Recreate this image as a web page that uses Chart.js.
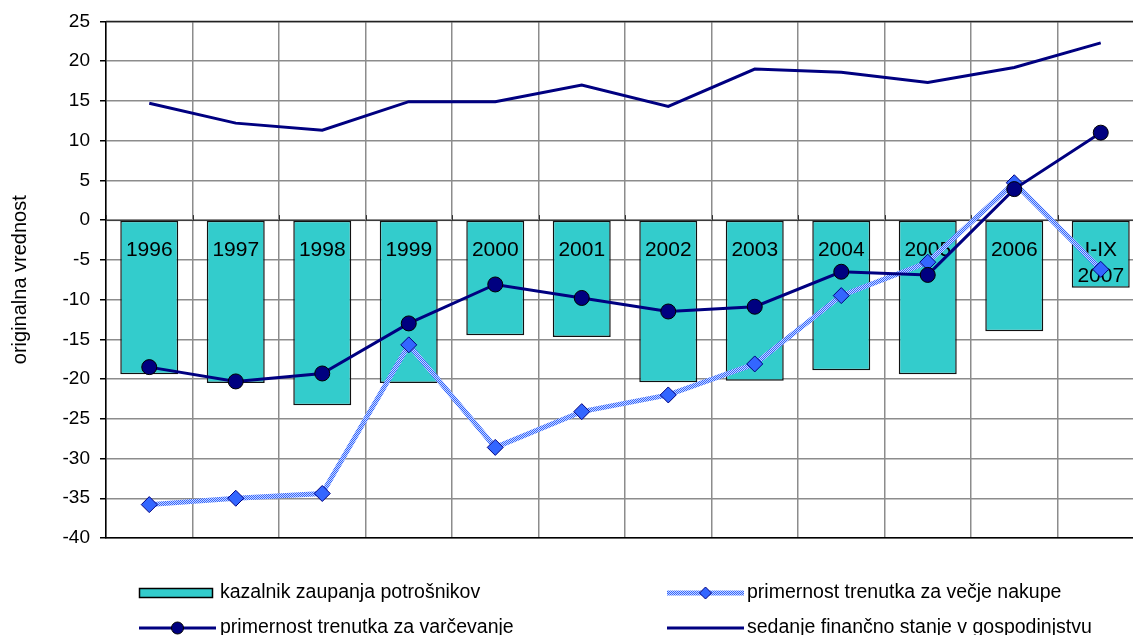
<!DOCTYPE html>
<html>
<head>
<meta charset="utf-8">
<script src="https://cdn.jsdelivr.net/npm/chart.js@4/dist/chart.umd.min.js"></script>
<style>
  html, body { margin: 0; padding: 0; background: #fff; overflow: hidden; }
  canvas { display: block; }
</style>
</head>
<body>
<canvas id="chart" width="1153" height="635"></canvas>
<script>
// categories (last one is two lines inside the bar)
const years = ['1996', '1997', '1998', '1999', '2000', '2001', '2002', '2003', '2004', '2005', '2006', ['I-IX', '2007']];

// series
const zaupanje = [-19.4, -20.5, -23.3, -20.5, -14.5, -14.7, -20.4, -20.2, -18.9, -19.4, -14.0, -8.5];
const varcevanje = [-18.5, -20.3, -19.3, -13.0, -8.1, -9.8, -11.5, -10.9, -6.5, -6.9, 3.9, 11.0];
const nakupi = [-35.8, -35.0, -34.4, -15.7, -28.6, -24.1, -22.0, -18.1, -9.5, -5.3, 4.7, -6.2];
const stanje = [14.7, 12.2, 11.3, 14.9, 14.9, 17.0, 14.3, 19.0, 18.6, 17.3, 19.2, 22.3];

const seriesNames = [
  'kazalnik zaupanja potrošnikov',
  'primernost trenutka za varčevanje',
  'primernost trenutka za večje nakupe',
  'sedanje finančno stanje v gospodinjstvu'
];

const yMin = -40, yMax = 25, yStep = 5;
const FONT = '"Liberation Sans", Arial, sans-serif';

// hatched light blue stroke for the purchases line
function hatch() {
  const c = document.createElement('canvas');
  c.width = 2; c.height = 2;
  const g = c.getContext('2d');
  g.fillStyle = '#c8d6ff'; g.fillRect(0, 0, 2, 2);
  g.fillStyle = '#3366ff'; g.fillRect(0, 0, 1, 1); g.fillRect(1, 1, 1, 1);
  return g.createPattern(c, 'repeat');
}
const hatchPattern = hatch();

// year labels inside the bars, drawn right after the bars so the lines cover them
const barLabels = {
  id: 'barLabels',
  afterDatasetDraw(chart, args) {
    if (args.index !== 0) return;
    const ctx = chart.ctx, x = chart.scales.x, y = chart.scales.y;
    const y0 = y.getPixelForValue(0);
    ctx.save();
    ctx.font = '21px ' + FONT;
    ctx.fillStyle = '#000';
    ctx.textAlign = 'center';
    ctx.textBaseline = 'middle';
    years.forEach((lab, i) => {
      const cx = x.getPixelForValue(i);
      const lines = Array.isArray(lab) ? lab : [lab];
      lines.forEach((t, j) => ctx.fillText(t, cx, y0 + 30 + j * 26));
    });
    ctx.restore();
  }
};

// plot frame, zero line ticks and the legend below
const frameAndLegend = {
  id: 'frameAndLegend',
  beforeDatasetsDraw(chart) {
    const ctx = chart.ctx, a = chart.chartArea, x = chart.scales.x, y = chart.scales.y;
    const y0 = y.getPixelForValue(0);
    ctx.save();
    ctx.strokeStyle = '#222';
    ctx.lineWidth = 1.5;
    ctx.beginPath();
    ctx.moveTo(a.left, a.top); ctx.lineTo(a.right, a.top);
    ctx.stroke();
    ctx.lineWidth = 1;
    ctx.strokeStyle = '#333';
    ctx.beginPath();
    ctx.moveTo(a.left, y0 + 0.5); ctx.lineTo(a.right, y0 + 0.5);
    for (let i = 0; i <= years.length; i++) {
      const px = Math.round(x.getPixelForValue(i - 0.5)) + 0.5;
      ctx.moveTo(px, y0); ctx.lineTo(px, y0 - 5);
    }
    ctx.stroke();
    ctx.restore();
  },
  afterDraw(chart) {
    const ctx = chart.ctx;
    const ds = chart.data.datasets;
    const slots = [
      { x: 139, y: 593 }, { x: 139, y: 628 },
      { x: 667, y: 593 }, { x: 667, y: 628 }
    ];
    ctx.save();
    ctx.font = '19.5px ' + FONT;
    ctx.textBaseline = 'middle';
    ds.forEach((d, i) => {
      const s = slots[i];
      const w = 77, mid = s.x + w / 2;
      if (d.type === 'bar') {
        ctx.fillStyle = d.backgroundColor;
        ctx.fillRect(s.x, s.y - 5, 74, 10);
        ctx.strokeStyle = '#000'; ctx.lineWidth = 1.5;
        ctx.strokeRect(s.x + 0.5, s.y - 4.5, 73, 9);
      } else {
        ctx.strokeStyle = d.borderColor;
        ctx.lineWidth = d.borderWidth;
        ctx.beginPath(); ctx.moveTo(s.x, s.y); ctx.lineTo(s.x + w, s.y); ctx.stroke();
        if (d.pointRadius > 0) {
          ctx.fillStyle = d.pointBackgroundColor;
          ctx.strokeStyle = d.pointBorderColor;
          ctx.lineWidth = d.pointBorderWidth;
          ctx.beginPath();
          if (d.pointStyle === 'rectRot') {
            const r = 6;
            ctx.moveTo(mid, s.y - r); ctx.lineTo(mid + r, s.y); ctx.lineTo(mid, s.y + r); ctx.lineTo(mid - r, s.y);
            ctx.closePath();
          } else {
            ctx.arc(mid, s.y, 6, 0, Math.PI * 2);
          }
          ctx.fill(); ctx.stroke();
        }
      }
      ctx.fillStyle = '#000';
      ctx.fillText(seriesNames[i], s.x + (i < 2 ? 81 : 80), s.y);
    });
    ctx.restore();
  }
};

new Chart(document.getElementById('chart'), {
  data: {
    labels: years,
    datasets: [
      {
        type: 'bar', label: seriesNames[0], data: zaupanje, order: 4,
        backgroundColor: '#33cccc', borderColor: '#111', borderWidth: 1.5, borderSkipped: false,
        barPercentage: 0.67, categoryPercentage: 1
      },
      {
        type: 'line', label: seriesNames[1], data: varcevanje, order: 1,
        borderColor: '#000080', borderWidth: 3, tension: 0,
        pointStyle: 'circle', pointRadius: 7.5, pointBackgroundColor: '#000080',
        pointBorderColor: '#000', pointBorderWidth: 1
      },
      {
        type: 'line', label: seriesNames[2], data: nakupi, order: 2,
        borderColor: hatchPattern, borderWidth: 5, tension: 0,
        pointStyle: 'rectRot', pointRadius: 8, pointBackgroundColor: '#3366ff',
        pointBorderColor: '#000080', pointBorderWidth: 1
      },
      {
        type: 'line', label: seriesNames[3], data: stanje, order: 3,
        borderColor: '#000080', borderWidth: 3, tension: 0, pointRadius: 0
      }
    ]
  },
  options: {
    responsive: false,
    animation: false,
    devicePixelRatio: 1,
    layout: { padding: { top: 18, bottom: 97, right: 1, left: 0 } },
    plugins: { legend: { display: false }, tooltip: { enabled: false } },
    scales: {
      x: {
        type: 'category', offset: true,
        ticks: { display: false },
        grid: { offset: true, color: '#8c8c8c', lineWidth: 1.5, drawTicks: false },
        border: { color: '#000', width: 1.5 },
        afterFit(s) { s.height = 0; }
      },
      y: {
        min: yMin, max: yMax,
        ticks: { stepSize: yStep, color: '#000', font: { family: FONT, size: 19 }, padding: 10 },
        grid: { color: '#8c8c8c', lineWidth: 1.5, tickLength: 6, tickColor: '#000' },
        border: { color: '#000', width: 1.5 },
        title: { display: true, text: 'originalna vrednost', color: '#000', font: { family: FONT, size: 20 }, padding: { top: 8, bottom: 0 } },
        afterFit(s) { s.width = 106; }
      }
    }
  },
  plugins: [barLabels, frameAndLegend]
});
</script>
</body>
</html>
